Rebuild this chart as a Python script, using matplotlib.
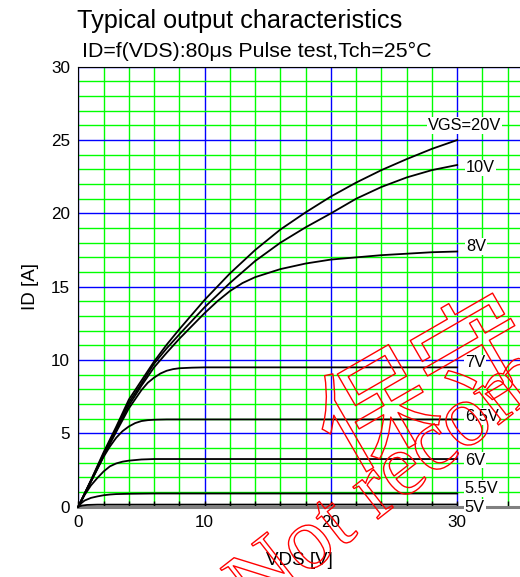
import matplotlib
matplotlib.use("Agg")
import matplotlib.pyplot as plt
import matplotlib.patheffects as pe
from matplotlib.ticker import MultipleLocator, FixedLocator

plt.rcParams['font.family'] = ['Liberation Sans', 'DejaVu Sans']

# VDS [V] -> ID [A] for each gate voltage
vds_20 = [0, 1, 2, 3, 4, 5, 6, 7, 8, 10, 12, 14, 16, 18, 20, 22, 24, 26, 28, 30]
id_20 = [0, 1.8, 3.7, 5.45, 7.3, 8.6, 9.9, 11.05, 12.1, 14.1, 15.9, 17.5, 18.9, 20.07,
         21.15, 22.1, 22.95, 23.7, 24.4, 25.0]

vds_10 = [0, 1, 2, 3, 4, 5, 6, 7, 8, 10, 12, 14, 16, 18, 20, 22, 24, 26, 28, 30]
id_10 = [0, 1.78, 3.6, 5.35, 7.1, 8.4, 9.75, 10.8, 11.75, 13.6, 15.25, 16.75, 18.0, 19.05,
         20.0, 21.0, 21.8, 22.45, 22.95, 23.3]

vds_8 = [0, 1, 2, 3, 4, 5, 6, 7, 8, 10, 11, 12, 13, 14, 16, 18, 20, 22, 24, 26, 28, 30]
id_8 = [0, 1.75, 3.5, 5.2, 6.9, 8.25, 9.5, 10.5, 11.45, 13.2, 14.0, 14.7, 15.25, 15.65,
        16.2, 16.58, 16.85, 17.0, 17.15, 17.25, 17.35, 17.4]

vds_7 = [0, 1, 2, 3, 4, 5, 5.5, 6, 6.5, 7, 7.5, 8, 9, 10, 30]
id_7 = [0, 1.72, 3.45, 5.1, 6.7, 7.95, 8.45, 8.8, 9.08, 9.27, 9.38, 9.44, 9.48, 9.5, 9.5]

vds_65 = [0, 1, 2, 2.5, 3, 3.5, 4, 4.5, 5, 5.5, 6, 7, 30]
id_65 = [0, 1.7, 3.4, 4.1, 4.7, 5.15, 5.47, 5.7, 5.84, 5.9, 5.93, 5.95, 5.95]

vds_6 = [0, 0.5, 1, 1.5, 2, 2.5, 3, 3.5, 4, 5, 6, 30]
id_6 = [0, 0.8, 1.45, 1.95, 2.4, 2.75, 2.95, 3.07, 3.14, 3.22, 3.25, 3.25]

vds_55 = [0, 0.25, 0.5, 1, 1.5, 2, 2.5, 3, 4, 6, 30]
id_55 = [0, 0.25, 0.42, 0.6, 0.7, 0.78, 0.83, 0.86, 0.88, 0.9, 0.9]

vds_5 = [0, 0.3, 0.7, 1.5, 30]
id_5 = [0, 0.08, 0.12, 0.14, 0.15]

curves = [(vds_20, id_20), (vds_10, id_10), (vds_8, id_8), (vds_7, id_7),
          (vds_65, id_65), (vds_6, id_6), (vds_55, id_55), (vds_5, id_5)]

label_text = ['VGS=20V', '10V', '8V', '7V', '6.5V', '6V', '5.5V', '5V']
label_x = [27.7, 30.7, 30.7, 30.6, 30.6, 30.6, 30.6, 30.6]
label_y = [26.0, 23.1, 17.75, 9.8, 6.13, 3.18, 1.25, -0.04]

W, H = 520, 577
fig = plt.figure(figsize=(W / 100, H / 100), dpi=100)
ax = fig.add_axes([78.3 / W, 70.3 / H, (W - 78.3) / W, 440 / H])

ax.set_xlim(0, 34.97)
ax.set_ylim(0, 30)

ax.xaxis.set_major_locator(FixedLocator([0, 10, 20, 30]))
ax.xaxis.set_minor_locator(MultipleLocator(2))
ax.yaxis.set_major_locator(MultipleLocator(5))
ax.yaxis.set_minor_locator(MultipleLocator(1))

ax.grid(which='minor', color='#00ff00', lw=1.0, zorder=0)
ax.grid(which='major', color='#0000ff', lw=1.0, zorder=0)
ax.set_axisbelow(True)

ax.tick_params(axis='x', which='both', direction='in', length=4, width=1,
               color='black', labelsize=12.3, pad=6)
ax.tick_params(axis='y', which='both', length=0, labelsize=12.3, pad=6)

ax.spines['right'].set_visible(False)
ax.spines['bottom'].set_color('#808080')
ax.spines['bottom'].set_linewidth(2.2)
ax.spines['left'].set_color('black')
ax.spines['top'].set_color('black')

for xs, ys in curves:
    ax.plot(xs, ys, color='black', lw=1.3, zorder=3, clip_on=False)

for t, x, y in zip(label_text, label_x, label_y):
    ax.text(x, y, t, fontsize=11.8, ha='left', va='center', zorder=4,
            bbox=dict(boxstyle='square,pad=0.05', fc='white', ec='none'))

ax.set_xlabel('VDS [V]', fontsize=13.5)
ax.set_ylabel('ID [A]', fontsize=13.5)
ax.xaxis.set_label_coords((299 - 78.3) / (W - 78.3), -(552 - 506.7) / 440)
ax.yaxis.set_label_coords(-(78.3 - 39) / (W - 78.3), 0.5)

fig.text(77 / W, 1 - 28.3 / H, 'Typical output characteristics',
         fontsize=18.2, ha='left', va='baseline')
fig.text(82 / W, 1 - 57.3 / H, 'ID=f(VDS):80\u03bcs Pulse test,Tch=25\u00b0C',
         fontsize=15.4, ha='left', va='baseline')

# watermark: outlined red glyphs, no fill
outline = [pe.Stroke(linewidth=1.0, foreground='red')]
fig.text(254 / W, 1 - 616 / H, 'Not recommended', family='Liberation Serif',
         fontsize=64, color='none', rotation=38, rotation_mode='anchor',
         ha='left', va='baseline', path_effects=outline, zorder=10)
fig.text(345 / W, 1 - 474 / H, '\u4fdd\u5b88', family=['Noto Sans CJK JP'],
         fontsize=82, color='none', rotation=30, rotation_mode='anchor',
         ha='left', va='baseline', path_effects=outline, zorder=10)

fig.savefig('out.png', dpi=100)
